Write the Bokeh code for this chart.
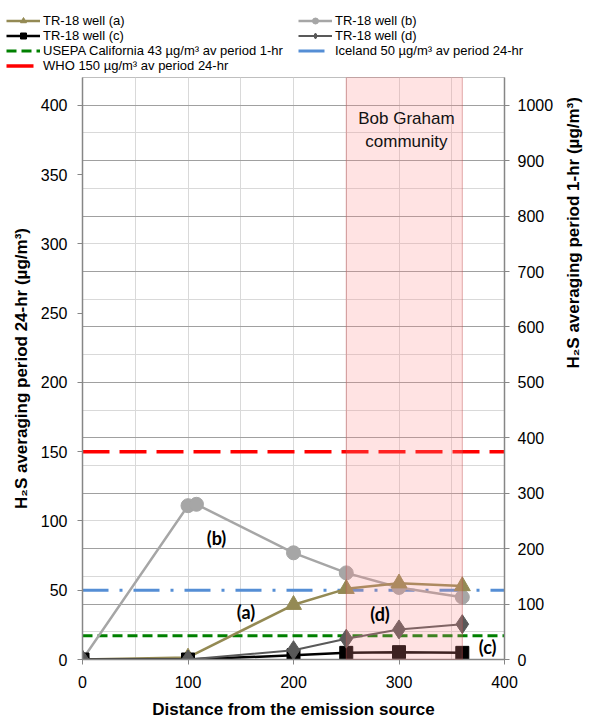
import math
from bokeh.plotting import figure
from bokeh.models import (Range1d, LinearAxis, FixedTicker, Grid, BoxAnnotation,
                          Legend, LegendItem, ColumnDataSource)
from bokeh.core.properties import value
from bokeh.embed import file_html
from bokeh.resources import INLINE

# ---------------- data ----------------
dist_a = [0, 100, 200, 250, 300, 360]
well_a = [0, 1.5, 39.5, 51, 55, 53]
dist_b = [0, 100, 108, 200, 250, 300, 360]
well_b = [0, 111, 112, 77, 62.5, 52, 45]
dist_c = [0, 100, 200, 250, 300, 360]
well_c = [0, 0, 3, 4.8, 5.3, 4.8]
dist_d = [0, 100, 200, 250, 300, 360]
well_d = [0, 0, 6.7, 15, 21.7, 25.5]

limit_x = [0, 400]
usepa_1hr = 43      # right axis (1-hr)
iceland_24hr = 50   # left axis (24-hr)
who_24hr = 150      # left axis (24-hr)

community_start = 250
community_end = 360
community_label = "Bob Graham\ncommunity"
community_x = [307]
community_y = [382]

series_tags = ["(a)", "(b)", "(c)", "(d)"]
tag_x = [155, 127, 384, 282]
tag_y = [34, 88, 8.7, 33]

x_ticks = [0, 100, 200, 300, 400]
left_ticks = [0, 50, 100, 150, 200, 250, 300, 350, 400]
right_ticks = [0, 100, 200, 300, 400, 500, 600, 700, 800, 900, 1000]

labels = ["TR-18 well (a)", "TR-18 well (b)", "TR-18 well (c)", "TR-18 well (d)",
          "USEPA California 43 \u00b5g/m\u00b3 av period 1-hr",
          "Iceland 50 \u00b5g/m\u00b3 av period 24-hr",
          "WHO 150 \u00b5g/m\u00b3 av period 24-hr"]

# hidden proxy point for legend-strip glyphs (outside the strip's visible range)
proxy_x = [-1]
proxy_y = [-1]

FONT = "Liberation Sans"

# ---------------- styles ----------------
who_style = dict(line_color="#ff0000", line_width=3.5, line_dash="27 10")
ice_style = dict(line_color="#558ed5", line_width=3, line_dash="26 11 3 11")
epa_style = dict(line_color="#008000", line_width=3, line_dash="10 5")
a_line = dict(line_color="#948a54", line_width=2.5)
a_mark = dict(marker="triangle", size=16, fill_color="#948a54", line_color="#948a54")
b_line = dict(line_color="#a6a6a6", line_width=2.5)
b_mark = dict(marker="circle", size=14, fill_color="#a6a6a6", line_color="#a6a6a6")
c_line = dict(line_color="#000000", line_width=2.5)
c_mark = dict(marker="square", size=13, fill_color="#000000", line_color="#000000")
d_line = dict(line_color="#595959", line_width=2)
d_mark = dict(marker="diamond", size=19, fill_color="#595959", line_color="#595959")

# ---------------- main chart ----------------
p = figure(width=595, height=645, x_range=Range1d(0, 400), y_range=Range1d(0, 420),
           output_backend="svg", toolbar_location=None,
           min_border_left=82, min_border_right=83, min_border_top=0, min_border_bottom=63)
p.extra_y_ranges = {"right": Range1d(0, 1050)}
p.background_fill_color = "white"
p.border_fill_color = "white"
p.outline_line_color = "#bfbfbf"

p.xgrid.ticker = FixedTicker(ticks=[50 * i for i in range(1, 9)])
p.xgrid.grid_line_color = "#d9d9d9"
p.ygrid.ticker = FixedTicker(ticks=[20 * i for i in range(22)])
p.ygrid.grid_line_color = "#d9d9d9"
p.add_layout(Grid(dimension=1, ticker=FixedTicker(ticks=[40 * i for i in range(11)]),
                  grid_line_color="#a0a0a0", grid_line_width=1))

def style_axis(ax):
    ax.axis_line_color = "#868686"
    ax.axis_line_width = 1.5
    ax.major_tick_line_color = "#868686"
    ax.major_tick_out = 5
    ax.major_tick_in = 0
    ax.minor_tick_line_color = None
    ax.major_label_text_font = FONT
    ax.major_label_text_font_size = "16px"
    ax.major_label_text_color = "#000000"
    ax.axis_label_text_font = FONT
    ax.axis_label_text_font_style = "bold"
    ax.axis_label_text_font_size = "17px"
    ax.axis_label_text_color = "#000000"

xa = p.xaxis[0]
xa.ticker = FixedTicker(ticks=x_ticks)
xa.axis_label = "Distance from the emission source"
style_axis(xa)
xa.major_label_standoff = 11
xa.axis_label_standoff = 9

ya = p.yaxis[0]
ya.ticker = FixedTicker(ticks=left_ticks)
ya.axis_label = "H\u2082S averaging period 24-hr (\u00b5g/m\u00b3)"
style_axis(ya)
ya.major_label_standoff = 10
ya.axis_label_standoff = 7

yr = LinearAxis(y_range_name="right", ticker=FixedTicker(ticks=right_ticks),
                axis_label="H\u2082S averaging period 1-hr (\u00b5g/m\u00b3)")
style_axis(yr)
yr.major_label_standoff = 8
yr.axis_label_standoff = 17
yr.axis_label_orientation = math.pi / 2
p.add_layout(yr, "right")

p.line(limit_x, [who_24hr, who_24hr], **who_style)
p.line(limit_x, [iceland_24hr, iceland_24hr], **ice_style)
p.line(limit_x, [usepa_1hr, usepa_1hr], y_range_name="right", **epa_style)

p.line(dist_b, well_b, **b_line)
p.scatter(dist_b, well_b, **b_mark)
p.line(dist_a, well_a, **a_line)
p.scatter(dist_a, well_a, **a_mark)
p.line(dist_c, well_c, **c_line)
p.scatter(dist_c, well_c, **c_mark)
p.line(dist_d, well_d, **d_line)
p.scatter(dist_d, well_d, **d_mark)

box = BoxAnnotation(left=community_start, right=community_end,
                    fill_color="#ff8c8c", fill_alpha=0.24,
                    line_color="#c05050", line_alpha=0.45, line_width=1)
p.add_layout(box)

p.text(x=community_x, y=community_y, text=[community_label], text_align="center",
       text_baseline="middle", text_font=value(FONT), text_font_size="17px",
       text_color="#111111", level="overlay")

tag_src = ColumnDataSource(dict(x=tag_x, y=tag_y, t=series_tags))
p.text(x="x", y="y", text="t", source=tag_src, text_align="center", text_baseline="middle",
       text_font=value("Lato"), text_font_style="bold", text_font_size="18px", text_color="#000000",
       level="overlay")

# ---------------- legend strip ----------------
lf = figure(width=595, height=77, x_range=Range1d(0, 1), y_range=Range1d(0, 1),
            output_backend="svg", toolbar_location=None, x_axis_type=None, y_axis_type=None,
            min_border_left=0, min_border_right=0, min_border_top=0, min_border_bottom=0)
lf.outline_line_color = None
lf.xgrid.visible = False
lf.ygrid.visible = False
lf.background_fill_color = "white"
lf.border_fill_color = "white"

la_l = lf.line(proxy_x, proxy_y, **a_line); la_m = lf.scatter(proxy_x, proxy_y, **a_mark)
lb_l = lf.line(proxy_x, proxy_y, **b_line); lb_m = lf.scatter(proxy_x, proxy_y, **b_mark)
lc_l = lf.line(proxy_x, proxy_y, **c_line); lc_m = lf.scatter(proxy_x, proxy_y, **c_mark)
ld_l = lf.line(proxy_x, proxy_y, **d_line); ld_m = lf.scatter(proxy_x, proxy_y, **d_mark)
l_epa = lf.line(proxy_x, proxy_y, **epa_style)
l_ice = lf.line(proxy_x, proxy_y, **ice_style)
l_who = lf.line(proxy_x, proxy_y, **who_style)

items = [
    LegendItem(label=labels[0], renderers=[la_l, la_m]),
    LegendItem(label=labels[1], renderers=[lb_l, lb_m]),
    LegendItem(label=labels[2], renderers=[lc_l, lc_m]),
    LegendItem(label=labels[3], renderers=[ld_l, ld_m]),
    LegendItem(label=labels[4], renderers=[l_epa]),
    LegendItem(label=labels[5], renderers=[l_ice]),
    LegendItem(label=labels[6], renderers=[l_who]),
]
legend = Legend(items=items, orientation="horizontal", ncols=2, location=(6, 4),
                label_text_font=FONT, label_text_font_size="13px", label_text_color="#000000",
                glyph_width=34, glyph_height=15, label_height=15, label_width=255,
                label_standoff=3, spacing=0, padding=2, margin=0,
                background_fill_alpha=0, border_line_color=None)
lf.add_layout(legend)

open("out.html", "w").write(file_html([lf, p], INLINE))
